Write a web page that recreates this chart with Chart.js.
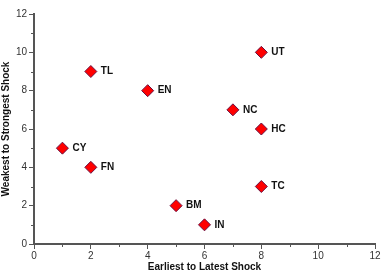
<!DOCTYPE html>
<html><head><meta charset="utf-8">
<script src="https://cdn.jsdelivr.net/npm/chart.js@4/dist/chart.umd.min.js"></script>
<style>html,body{margin:0;padding:0;background:#fff}#wrap{width:382px;height:273px}</style>
</head><body><div id="wrap"><canvas id="c"></canvas></div>
<script>
const labels = ["TL","EN","UT","NC","HC","CY","FN","TC","BM","IN"];
const xValues = [2,4,8,7,8,1,2,8,5,6];
const yValues = [9,8,10,7,6,5,4,3,2,1];
const axisMin = 0, axisMax = 12;

const pts = xValues.map((x,i)=>({x:x,y:yValues[i]}));

const extras = {
  id:'extras',
  afterDatasetsDraw(chart){
    const ctx = chart.ctx;
    const xs = chart.scales.x, ys = chart.scales.y;
    ctx.save();
    ctx.strokeStyle = '#555';
    ctx.lineWidth = 1;
    // minor ticks
    for(let v=axisMin+1; v<axisMax; v+=2){
      const px = Math.round(xs.getPixelForValue(v))+0.5;
      ctx.beginPath(); ctx.moveTo(px, ys.bottom); ctx.lineTo(px, ys.bottom+3); ctx.stroke();
      const py = Math.round(ys.getPixelForValue(v))+0.5;
      ctx.beginPath(); ctx.moveTo(xs.left, py); ctx.lineTo(xs.left-3, py); ctx.stroke();
    }
    // point labels
    ctx.fillStyle = '#111';
    ctx.font = 'bold 10px "Liberation Sans", Arial, sans-serif';
    ctx.textBaseline = 'middle';
    ctx.textAlign = 'left';
    const meta = chart.getDatasetMeta(0);
    meta.data.forEach((el,i)=>{
      ctx.fillText(labels[i], el.x+10, el.y);
    });
    ctx.restore();
  }
};

new Chart(document.getElementById('c'), {
  type:'scatter',
  data:{datasets:[{
    data:pts,
    pointStyle:'rectRot',
    pointRadius:6,
    pointHoverRadius:6,
    backgroundColor:'#ff0000',
    borderColor:'#6a1040',
    borderWidth:1
  }]},
  options:{
    responsive:true, maintainAspectRatio:false, animation:false,
    layout:{padding:{top:14,right:6,left:0,bottom:0}},
    plugins:{legend:{display:false}, tooltip:{enabled:false}},
    scales:{
      x:{
        type:'linear', min:axisMin, max:axisMax,
        afterFit(s){ s.height = 29; },
        ticks:{stepSize:2, color:'#333', padding:1, font:{size:10, family:'"Liberation Sans", Arial, sans-serif'}},
        grid:{display:true, drawOnChartArea:false, drawTicks:true, tickLength:5, color:'#555', tickColor:'#555'},
        border:{display:true, color:'#555', width:2},
        title:{display:true, text:'Earliest to Latest Shock', color:'#111', padding:{top:0,bottom:0},
          font:{size:10, weight:'bold', family:'"Liberation Sans", Arial, sans-serif'}}
      },
      y:{
        type:'linear', min:axisMin, max:axisMax,
        afterFit(s){ s.width = 34; },
        ticks:{stepSize:2, color:'#333', padding:2, font:{size:10, family:'"Liberation Sans", Arial, sans-serif'}},
        grid:{display:true, drawOnChartArea:false, drawTicks:true, tickLength:5, color:'#555', tickColor:'#555'},
        border:{display:true, color:'#555', width:2},
        title:{display:true, text:'Weakest to Strongest Shock', color:'#111', padding:{top:0,bottom:2},
          font:{size:10, weight:'bold', family:'"Liberation Sans", Arial, sans-serif'}}
      }
    }
  },
  plugins:[extras]
});
</script></body></html>
